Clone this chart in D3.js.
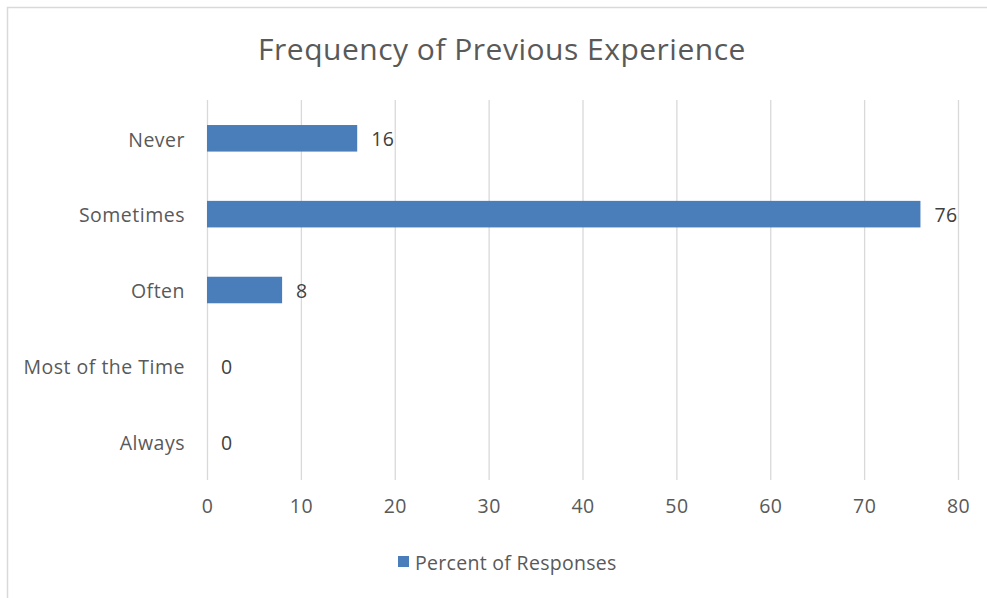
<!DOCTYPE html>
<html><head><meta charset="utf-8">
<script src="https://cdn.jsdelivr.net/npm/d3@7"></script>
<style>body{margin:0;background:#fff;} text{font-family:"Open Sans",sans-serif;}</style>
</head><body><svg id="c" width="987" height="598"></svg>
<script>
const categories = ["Never","Sometimes","Often","Most of the Time","Always"];
const values = [16,76,8,0,0];
const xTicks = [0,10,20,30,40,50,60,70,80];
const seriesName = "Percent of Responses";
const title = "Frequency of Previous Experience";

const svg = d3.select("#c");
const W=987,H=598;
svg.append("rect").attr("width",W).attr("height",H).attr("fill","#fff");
svg.append("path").attr("d","M7.5,598 V7.5 H987").attr("fill","none").attr("stroke","#d9d9d9").attr("stroke-width",1.5);

const m={l:207,r:958,t:100,b:480};
const x=d3.scaleLinear().domain([0,80]).range([m.l,m.r]);
const y=d3.scaleBand().domain(categories).range([m.t,m.b]).paddingInner(0.65).paddingOuter(0.33);

svg.append("text").attr("x",502).attr("y",60).attr("text-anchor","middle")
  .attr("font-size",30).attr("letter-spacing","0.5px").attr("fill","#595959").text(title);

svg.append("g").selectAll("line").data(xTicks).join("line")
  .attr("x1",d=>x(d)+0.5).attr("x2",d=>x(d)+0.5).attr("y1",m.t).attr("y2",m.b)
  .attr("stroke","#d9d9d9").attr("stroke-width",1.3);

const xa=svg.append("g").attr("transform",`translate(0,${m.b})`)
  .call(d3.axisBottom(x).tickValues(xTicks).tickSize(0).tickPadding(19).tickFormat(d3.format("d")));
xa.select(".domain").remove();
xa.selectAll("text").attr("font-size",19.5).attr("letter-spacing","0.4px").attr("fill","#595959").attr("font-family","Open Sans");

const ya=svg.append("g").attr("transform",`translate(${m.l},0)`)
  .call(d3.axisLeft(y).tickSize(0).tickPadding(22));
ya.select(".domain").remove();
ya.selectAll("text").attr("font-size",19.5).attr("letter-spacing","0.5px").attr("dy","0.42em").attr("fill","#595959").attr("font-family","Open Sans");

svg.append("g").selectAll("rect").data(categories).join("rect")
  .attr("x",x(0)).attr("y",d=>y(d)).attr("height",y.bandwidth())
  .attr("width",(d,i)=>x(values[i])-x(0)).attr("fill","#4a7ebb");

svg.append("g").selectAll("text").data(categories).join("text")
  .attr("x",(d,i)=>x(values[i])+14).attr("y",d=>y(d)+y.bandwidth()/2).attr("dy","0.42em")
  .attr("font-size",19.5).attr("letter-spacing","0.4px").attr("fill","#404040").text((d,i)=>values[i]);

const lg=svg.append("g");
lg.append("rect").attr("x",398).attr("y",556).attr("width",11).attr("height",11).attr("fill","#4a7ebb");
lg.append("text").attr("x",415).attr("y",562).attr("dy","0.4em").attr("font-size",19.5).attr("letter-spacing","0.3px").attr("fill","#595959").text(seriesName);
</script></body></html>
